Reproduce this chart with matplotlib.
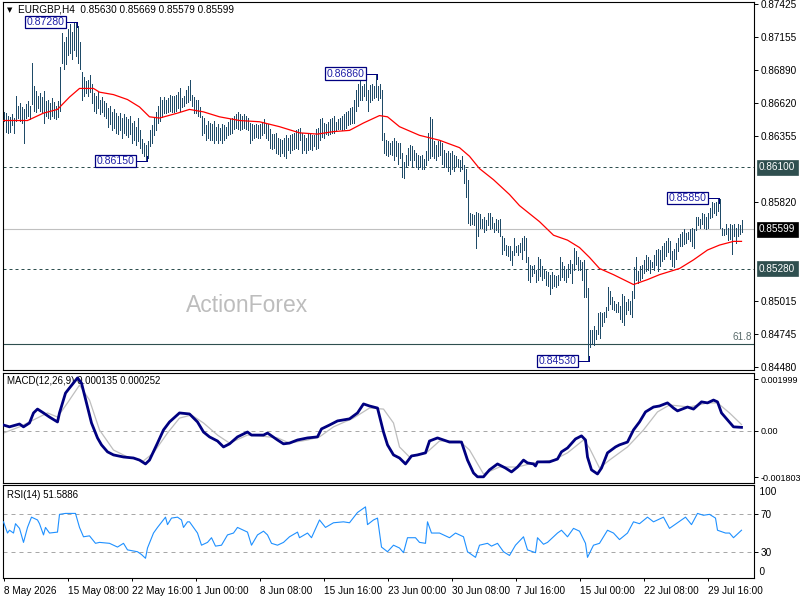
import numpy as np
import matplotlib
matplotlib.use("Agg")
import matplotlib.pyplot as plt
from matplotlib import transforms

plt.rcParams['font.family'] = ['Liberation Sans', 'DejaVu Sans']

# ---------------- data ----------------
symbol = "EURGBP,H4"
last_ohlc = [0.85630, 0.85669, 0.85579, 0.85599]

# H4 bar highs / lows in pips (1 pip = 0.0001)
high_pips = [
    8655, 8654, 8652, 8651, 8653, 8650, 8668, 8660, 8662, 8659,
    8657, 8661, 8664, 8660, 8695, 8676, 8672, 8668, 8670, 8667,
    8672, 8664, 8665, 8662, 8666, 8663, 8660, 8664, 8691, 8719,
    8712, 8716, 8722, 8726, 8720, 8727, 8728, 8725, 8712, 8687,
    8683, 8680, 8681, 8685, 8678, 8670, 8668, 8672, 8665, 8667,
    8664, 8662, 8658, 8660, 8655, 8657, 8654, 8652, 8654, 8650,
    8653, 8651, 8649, 8652, 8646, 8648, 8643, 8650, 8640, 8633,
    8630, 8628, 8631, 8640, 8644, 8650, 8655, 8660, 8667, 8665,
    8667, 8665, 8666, 8669, 8668, 8668, 8669, 8671, 8674, 8666,
    8668, 8673, 8676, 8681, 8669, 8667, 8665, 8665, 8659, 8652,
    8650, 8644, 8648, 8646, 8645, 8648, 8643, 8645, 8642, 8645,
    8644, 8643, 8647, 8649, 8650, 8652, 8653, 8655, 8653, 8652,
    8653, 8652, 8650, 8646, 8645, 8644, 8645, 8644, 8645, 8647,
    8649, 8646, 8645, 8641, 8637, 8637, 8638, 8634, 8633, 8632,
    8634, 8636, 8634, 8636, 8637, 8638, 8640, 8641, 8642, 8638,
    8636, 8634, 8637, 8638, 8636, 8636, 8641, 8642, 8649, 8650,
    8646, 8645, 8647, 8649, 8650, 8652, 8647, 8649, 8650, 8652,
    8653, 8655, 8656, 8658, 8659, 8665, 8673, 8678, 8681, 8676,
    8678, 8681, 8673, 8677, 8678, 8676, 8686, 8676, 8678, 8673,
    8638, 8632, 8631, 8630, 8631, 8634, 8631, 8630, 8630, 8622,
    8614, 8620, 8626, 8628, 8627, 8624, 8622, 8620, 8619, 8620,
    8617, 8623, 8638, 8651, 8649, 8631, 8628, 8631, 8631, 8630,
    8624, 8622, 8623, 8622, 8623, 8620, 8619, 8617, 8616, 8619,
    8612, 8609, 8600, 8573, 8572, 8571, 8574, 8573, 8572, 8568,
    8570, 8567, 8573, 8573, 8570, 8565, 8568, 8567, 8568, 8554,
    8553, 8547, 8546, 8546, 8542, 8553, 8546, 8547, 8549, 8553,
    8554, 8553, 8537, 8531, 8530, 8531, 8527, 8537, 8536, 8530,
    8528, 8526, 8525, 8523, 8525, 8523, 8522, 8523, 8537, 8533,
    8530, 8528, 8532, 8535, 8532, 8545, 8542, 8537, 8535, 8533,
    8535, 8528, 8512, 8478, 8478, 8481, 8478, 8492, 8493, 8492,
    8493, 8497, 8513, 8510, 8505, 8502, 8499, 8501, 8498, 8507,
    8506, 8501, 8503, 8502, 8510, 8529, 8537, 8526, 8530, 8531,
    8535, 8539, 8537, 8535, 8533, 8539, 8543, 8544, 8543, 8546,
    8549, 8550, 8553, 8550, 8542, 8544, 8549, 8553, 8556, 8558,
    8560, 8557, 8558, 8560, 8561, 8560, 8570, 8570, 8568, 8573,
    8572, 8570, 8573, 8577, 8582, 8581, 8582, 8585, 8584, 8561,
    8560, 8564, 8561, 8564, 8563, 8564, 8561, 8564, 8563, 8567,
]
low_pips = [
    8648, 8639, 8638, 8639, 8644, 8638, 8648, 8650, 8648, 8646,
    8630, 8650, 8652, 8649, 8661, 8656, 8655, 8658, 8656, 8655,
    8646, 8652, 8650, 8649, 8652, 8650, 8649, 8651, 8656, 8695,
    8690, 8694, 8701, 8703, 8698, 8705, 8700, 8695, 8690, 8665,
    8668, 8670, 8668, 8671, 8662, 8656, 8654, 8658, 8653, 8655,
    8652, 8650, 8643, 8645, 8640, 8642, 8638, 8637, 8640, 8634,
    8638, 8636, 8635, 8637, 8630, 8632, 8628, 8631, 8626, 8622,
    8619, 8615, 8618, 8627, 8630, 8636, 8640, 8646, 8648, 8651,
    8654, 8654, 8655, 8656, 8655, 8655, 8656, 8658, 8656, 8659,
    8660, 8662, 8663, 8665, 8660, 8654, 8654, 8652, 8651, 8636,
    8638, 8632, 8634, 8632, 8632, 8630, 8632, 8630, 8632, 8630,
    8632, 8634, 8636, 8637, 8638, 8641, 8642, 8641, 8640, 8641,
    8642, 8641, 8640, 8630, 8632, 8634, 8635, 8634, 8634, 8636,
    8638, 8634, 8632, 8626, 8625, 8626, 8622, 8621, 8619, 8622,
    8619, 8618, 8624, 8622, 8624, 8625, 8626, 8625, 8632, 8622,
    8624, 8622, 8624, 8625, 8624, 8627, 8625, 8626, 8632, 8635,
    8634, 8637, 8636, 8637, 8638, 8638, 8640, 8641, 8641, 8640,
    8641, 8642, 8644, 8645, 8646, 8646, 8656, 8660, 8665, 8665,
    8668, 8665, 8656, 8663, 8665, 8666, 8667, 8665, 8666, 8632,
    8622, 8620, 8619, 8621, 8620, 8616, 8619, 8613, 8618, 8602,
    8601, 8610, 8612, 8616, 8611, 8616, 8610, 8609, 8610, 8609,
    8609, 8612, 8616, 8618, 8619, 8618, 8616, 8619, 8620, 8613,
    8610, 8610, 8607, 8605, 8609, 8607, 8611, 8610, 8607, 8609,
    8597, 8586, 8565, 8563, 8564, 8563, 8545, 8554, 8561, 8561,
    8558, 8559, 8563, 8560, 8561, 8558, 8559, 8558, 8554, 8540,
    8543, 8539, 8538, 8535, 8531, 8539, 8541, 8539, 8541, 8536,
    8543, 8533, 8519, 8517, 8522, 8524, 8517, 8519, 8522, 8519,
    8520, 8515, 8514, 8507, 8512, 8514, 8513, 8515, 8519, 8521,
    8519, 8517, 8521, 8524, 8516, 8527, 8532, 8527, 8527, 8519,
    8505, 8505, 8453, 8464, 8467, 8466, 8471, 8475, 8472, 8481,
    8485, 8489, 8494, 8499, 8495, 8494, 8493, 8493, 8487, 8485,
    8482, 8491, 8494, 8491, 8489, 8504, 8519, 8516, 8519, 8520,
    8524, 8526, 8527, 8524, 8529, 8527, 8531, 8526, 8530, 8534,
    8536, 8538, 8541, 8536, 8530, 8529, 8536, 8542, 8546, 8546,
    8548, 8549, 8552, 8550, 8546, 8545, 8559, 8563, 8561, 8564,
    8561, 8560, 8561, 8569, 8570, 8573, 8571, 8575, 8561, 8555,
    8555, 8556, 8551, 8552, 8540, 8554, 8549, 8554, 8556, 8558,
]

# moving average (read at sample bars)
ma_idx = [0, 12, 20, 27, 33, 38, 45, 48, 55, 62, 68, 73, 78, 87, 93, 100, 108, 118, 128, 138,
          148, 157, 165, 173, 180, 188, 192, 198, 208, 218, 228, 233, 238, 245, 253, 258, 268, 275, 282, 288,
          293, 298, 305, 310, 315, 322, 328, 338, 345, 352, 358, 365, 369]
ma_pips = [8648, 8648, 8654, 8657, 8667, 8674, 8674, 8671, 8669, 8665, 8659, 8651, 8650, 8654, 8657, 8655, 8651, 8648, 8647, 8643,
           8638, 8637, 8639, 8640, 8646, 8652, 8651, 8643, 8636, 8632, 8626, 8619, 8609, 8600, 8588, 8579, 8566, 8555, 8551, 8545,
           8537, 8528, 8523, 8519, 8515, 8519, 8523, 8528, 8535, 8543, 8547, 8550, 8550]

# MACD(12,26,9)
macd_params = "12,26,9"
macd_last = [0.000135, 0.000252]
macd_idx = [0, 3, 8, 10, 13, 15, 17, 20, 23, 27, 28, 31, 33, 37, 39, 42, 44, 47, 49, 52,
            55, 60, 65, 68, 71, 73, 77, 80, 83, 88, 93, 97, 100, 103, 107, 110, 113, 117, 122, 124,
            130, 132, 137, 140, 143, 147, 152, 157, 159, 163, 167, 173, 177, 180, 183, 187, 190, 192, 195, 198,
            201, 204, 207, 211, 213, 217, 220, 223, 229, 232, 235, 237, 240, 243, 247, 251, 254, 257, 260, 262,
            265, 266, 267, 273, 277, 279, 282, 286, 289, 291, 292, 294, 297, 299, 302, 306, 308, 312, 315, 318,
            321, 325, 328, 332, 335, 337, 342, 345, 349, 352, 355, 357, 359, 362, 365, 369]
macd_vals = [0.00023, 0.00016, 0.00027, 0.00016, 0.00031, 0.00070, 0.00085, 0.00070, 0.00054, 0.00035,
             0.00070, 0.00147, 0.00167, 0.00206, 0.00186, 0.00093, 0.00031, -0.00027, -0.00054, -0.00081,
             -0.00093, -0.00101, -0.00105, -0.00113, -0.00128, -0.00113, -0.00047, 0.00004, 0.00035, 0.00070,
             0.00066, 0.00035, -0.00004, -0.00023, -0.00039, -0.00062, -0.00050, -0.00023, -0.00004, -0.00016,
             -0.00016, -0.00008, -0.00035, -0.00050, -0.00047, -0.00035, -0.00027, -0.00023, 0.00008, 0.00023,
             0.00039, 0.00047, 0.00070, 0.00105, 0.00097, 0.00089, -0.00004, -0.00054, -0.00093, -0.00105,
             -0.00128, -0.00097, -0.00093, -0.00085, -0.00039, -0.00027, -0.00035, -0.00043, -0.00043, -0.00113,
             -0.00163, -0.00178, -0.00178, -0.00151, -0.00128, -0.00144, -0.00159, -0.00140, -0.00113, -0.00124,
             -0.00128, -0.00136, -0.00120, -0.00120, -0.00109, -0.00081, -0.00066, -0.00031, -0.00019, -0.00035,
             -0.00101, -0.00151, -0.00167, -0.00144, -0.00085, -0.00062, -0.00054, -0.00043, 0.00004, 0.00035,
             0.00074, 0.00093, 0.00097, 0.00109, 0.00089, 0.00078, 0.00093, 0.00085, 0.00113, 0.00109,
             0.00120, 0.00113, 0.00070, 0.00043, 0.00016, 0.00014]
sig_idx = [0, 8, 15, 22, 27, 32, 38, 43, 48, 55, 62, 70, 75, 82, 88, 94, 100, 107, 113, 122,
           128, 137, 143, 152, 158, 165, 175, 183, 190, 195, 198, 203, 212, 218, 228, 233, 240, 248, 257, 265,
           275, 282, 290, 293, 298, 303, 312, 320, 327, 333, 343, 352, 357, 363, 369]
sig_vals = [-0.00008, 0.00016, 0.00043, 0.00070, 0.00054, 0.00109, 0.00178, 0.00120, 0.00004, -0.00074,
            -0.00101, -0.00116, -0.00085, -0.00008, 0.00050, 0.00062, 0.00031, -0.00016, -0.00047, -0.00016,
            -0.00019, -0.00027, -0.00047, -0.00035, -0.00023, 0.00016, 0.00050, 0.00089, 0.00085, 0.00031,
            -0.00062, -0.00101, -0.00081, -0.00039, -0.00039, -0.00074, -0.00167, -0.00140, -0.00140, -0.00124,
            -0.00113, -0.00085, -0.00035, -0.00066, -0.00144, -0.00113, -0.00062, 0.00004, 0.00074, 0.00101,
            0.00093, 0.00109, 0.00109, 0.00070, 0.00025]
macd_ticks = [0.001999, 0.0, -0.001803]
macd_tick_labels = ["0.001999", "0.00", "-0.001803"]

# RSI(14)
rsi_period = 14
rsi_last = 51.5886
rsi_idx = [0, 2, 3, 5, 6, 8, 10, 12, 14, 17, 18, 20, 21, 23, 27, 28, 31, 33, 36, 38,
           40, 43, 46, 48, 53, 57, 60, 62, 67, 69, 71, 72, 75, 77, 81, 82, 84, 87, 89, 90,
           92, 93, 97, 99, 102, 104, 106, 109, 112, 115, 117, 122, 124, 127, 130, 132, 134, 137, 140, 143,
           147, 148, 152, 154, 158, 161, 165, 170, 173, 177, 181, 182, 185, 187, 189, 192, 195, 198, 200, 202,
           206, 208, 211, 212, 214, 218, 223, 226, 230, 232, 236, 238, 242, 244, 247, 250, 253, 256, 260, 262,
           266, 267, 270, 272, 277, 279, 282, 285, 288, 291, 292, 295, 298, 302, 305, 308, 312, 315, 318, 322,
           325, 330, 333, 337, 341, 344, 347, 350, 353, 356, 357, 361, 363, 365, 369]
rsi_vals = [62, 50, 53, 50, 60, 55, 40, 56, 67, 64, 60, 48, 56, 50, 51, 70, 71, 71, 71, 56,
            46, 47, 39, 40, 39, 35, 39, 32, 30, 27, 23, 34, 50, 56, 67, 59, 66, 67, 64, 56,
            62, 62, 50, 37, 40, 45, 36, 37, 48, 50, 56, 51, 37, 48, 52, 48, 39, 37, 40, 46,
            51, 45, 50, 45, 64, 56, 61, 62, 61, 72, 78, 59, 64, 66, 35, 30, 37, 34, 29, 45,
            45, 40, 39, 62, 50, 50, 45, 50, 46, 30, 24, 37, 39, 36, 39, 30, 26, 37, 46, 32,
            29, 45, 38, 40, 50, 53, 46, 55, 52, 39, 24, 37, 39, 53, 50, 43, 50, 62, 60, 67,
            62, 67, 55, 61, 67, 59, 71, 69, 70, 66, 53, 50, 50, 45, 53]
rsi_levels = [70, 30]

# levels and swing labels
sr_levels = [0.86100, 0.85280]
fib_level = 0.84665
fib_label = "61.8"
swing_points = [(36, "high"), (71, "low"), (186, "high"), (292, "low"), (357, "high")]

# axis ticks (the ones hidden behind the boxed level labels are left unlabelled)
price_ticks = [0.87425, 0.87155, 0.86890, 0.86620, 0.86355,
               0.85820, 0.85015, 0.84745, 0.84480]
time_tick_idx = [0, 32, 64, 96, 128, 160, 192, 224, 256, 288, 320, 352]
time_labels = ["8 May 2026", "15 May 08:00", "22 May 16:00", "1 Jun 00:00",
               "8 Jun 08:00", "15 Jun 16:00", "23 Jun 00:00", "30 Jun 08:00",
               "7 Jul 16:00", "15 Jul 00:00", "22 Jul 08:00", "29 Jul 16:00"]

# ---------------- derived ----------------
high = np.array(high_pips) / 1e4
low = np.array(low_pips) / 1e4
bars = np.arange(len(high))
ma = np.array(ma_pips) / 1e4

BAR_C = "#1F4B68"
NAVY = "#000080"
SLATE = "#2F4F4F"
FS = 7.2

W, H = 800, 600
def fx(px):
    return px / W
def fy(py):
    return 1 - py / H

fig = plt.figure(figsize=(8, 6), dpi=100)
fig.patch.set_facecolor("white")

ax = fig.add_axes([fx(3), fy(370), 751 / W, 368 / H])
axm = fig.add_axes([fx(3), fy(483), 751 / W, 110.5 / H])
axr = fig.add_axes([fx(3), fy(578), 751 / W, 93 / H])

XL = (-0.25, 375.25)
for a in (ax, axm, axr):
    a.set_xlim(*XL)
    for s in a.spines.values():
        s.set_linewidth(0.8)
        s.set_color("black")
    a.tick_params(axis="x", bottom=False, labelbottom=False)
    a.yaxis.tick_right()
    a.tick_params(axis="y", right=True, left=False, length=3, width=0.7,
                  pad=2, labelsize=FS, colors="black")

# ---- main price panel ----
ymin, ymax = 0.84457, 0.87441
ax.set_ylim(ymin, ymax)
ppx = (ymax - ymin) / 368.0

ax.set_yticks(price_ticks)
ax.set_yticklabels([f"{v:.5f}" for v in price_ticks])

for lv in sr_levels:
    ax.axhline(lv, color=SLATE, lw=0.72, ls=(0, (3, 3)), zorder=1)
ax.axhline(last_ohlc[3], color="#C0C0C0", lw=0.8, zorder=1)
ax.axhline(fib_level, color=SLATE, lw=0.8, zorder=1)
ax.text(0.997, fib_level + 2 * ppx, fib_label,
        transform=transforms.blended_transform_factory(ax.transAxes, ax.transData),
        ha="right", va="bottom", fontsize=FS, color="#5A6B6B")

ax.text(fx(247), fy(306), "ActionForex", transform=fig.transFigure,
        fontsize=16.5, color="#BDBDBD", ha="center", va="center", zorder=0)

ax.vlines(bars, low, high, colors=BAR_C, linewidth=0.5, antialiased=False, zorder=3)
ax.plot(ma_idx, ma, color="#FF0000", lw=0.9, zorder=4)

# swing labels
for i, kind in swing_points:
    p = high[i] if kind == "high" else low[i]
    ax.annotate(f"{p:.5f}", xy=(i, p), xytext=(-11, 0), textcoords="offset pixels",
                ha="right", va="center", fontsize=7.6, color="#2020A8",
                bbox=dict(boxstyle="square,pad=0.12", fc="white", ec=NAVY, lw=0.9),
                zorder=6, annotation_clip=False)
    ax.plot([i - 4.7, i + 0.5], [p, p], color=NAVY, lw=0.5, zorder=5, antialiased=False)
    dy = -5 * ppx if kind == "high" else 5 * ppx
    ax.plot([i + 0.5, i + 0.5], [p, p + dy], color=NAVY, lw=0.5, zorder=5, antialiased=False)

# right boxed price labels
for val, fc in [(sr_levels[0], SLATE), (sr_levels[1], SLATE), (last_ohlc[3], "black")]:
    ax.annotate(f"{val:.5f}", xy=(1, val), xycoords=("axes fraction", "data"),
                xytext=(5, 0), textcoords="offset pixels", ha="left", va="center",
                fontsize=FS, color="white",
                bbox=dict(boxstyle="square,pad=0.25", fc=fc, ec=fc, lw=0.5),
                zorder=10, annotation_clip=False)

fig.text(fx(7), fy(10), "\u25BC", fontsize=5, va="center", ha="left",
         family=["DejaVu Sans"])
fig.text(fx(18), fy(10), f"{symbol}  " + " ".join(f"{v:.5f}" for v in last_ohlc),
         fontsize=7.2, va="center", ha="left", color="black")

# ---- MACD panel ----
axm.set_ylim(-0.00202, 0.00227)
axm.axhline(0, color="#A8A8A8", lw=0.72, ls=(0, (4, 4)), zorder=1)
axm.plot(sig_idx, sig_vals, color="#BEBEBE", lw=0.9, zorder=2)
axm.plot(macd_idx, macd_vals, color=NAVY, lw=2.0, zorder=3)
axm.set_yticks(macd_ticks)
axm.set_yticklabels(macd_tick_labels)
axm.tick_params(axis="y", labelsize=6.5)
axm.text(fx(7), fy(381), f"MACD({macd_params}) {macd_last[0]:.6f} {macd_last[1]:.6f}",
         transform=fig.transFigure, fontsize=7, va="center", ha="left", zorder=1)

# ---- RSI panel ----
axr.set_ylim(1.9, 101.4)
for lv in rsi_levels:
    axr.axhline(lv, color="#A8A8A8", lw=0.72, ls=(0, (4, 4)), zorder=1)
axr.plot(rsi_idx, rsi_vals, color="#1E90FF", lw=0.8, zorder=3)
axr.set_yticks(rsi_levels)
axr.set_yticklabels([str(v) for v in rsi_levels])
axr.text(1.0, (578 - 492) / 93.0, "  100", transform=axr.transAxes, fontsize=FS,
         va="center", ha="left")
axr.text(1.0, (578 - 572) / 93.0, "  0", transform=axr.transAxes, fontsize=FS,
         va="center", ha="left")
axr.text(fx(7), fy(495), f"RSI({rsi_period}) {rsi_last:.4f}", transform=fig.transFigure,
         fontsize=7, va="center", ha="left")

axr.tick_params(axis="x", bottom=True, labelbottom=True, length=2, width=0.7, pad=4,
                labelsize=FS)
axr.set_xticks(time_tick_idx)
axr.set_xticklabels(time_labels)
for lab in axr.get_xticklabels():
    lab.set_ha("left")

fig.savefig("out.png", dpi=100, facecolor="white")
